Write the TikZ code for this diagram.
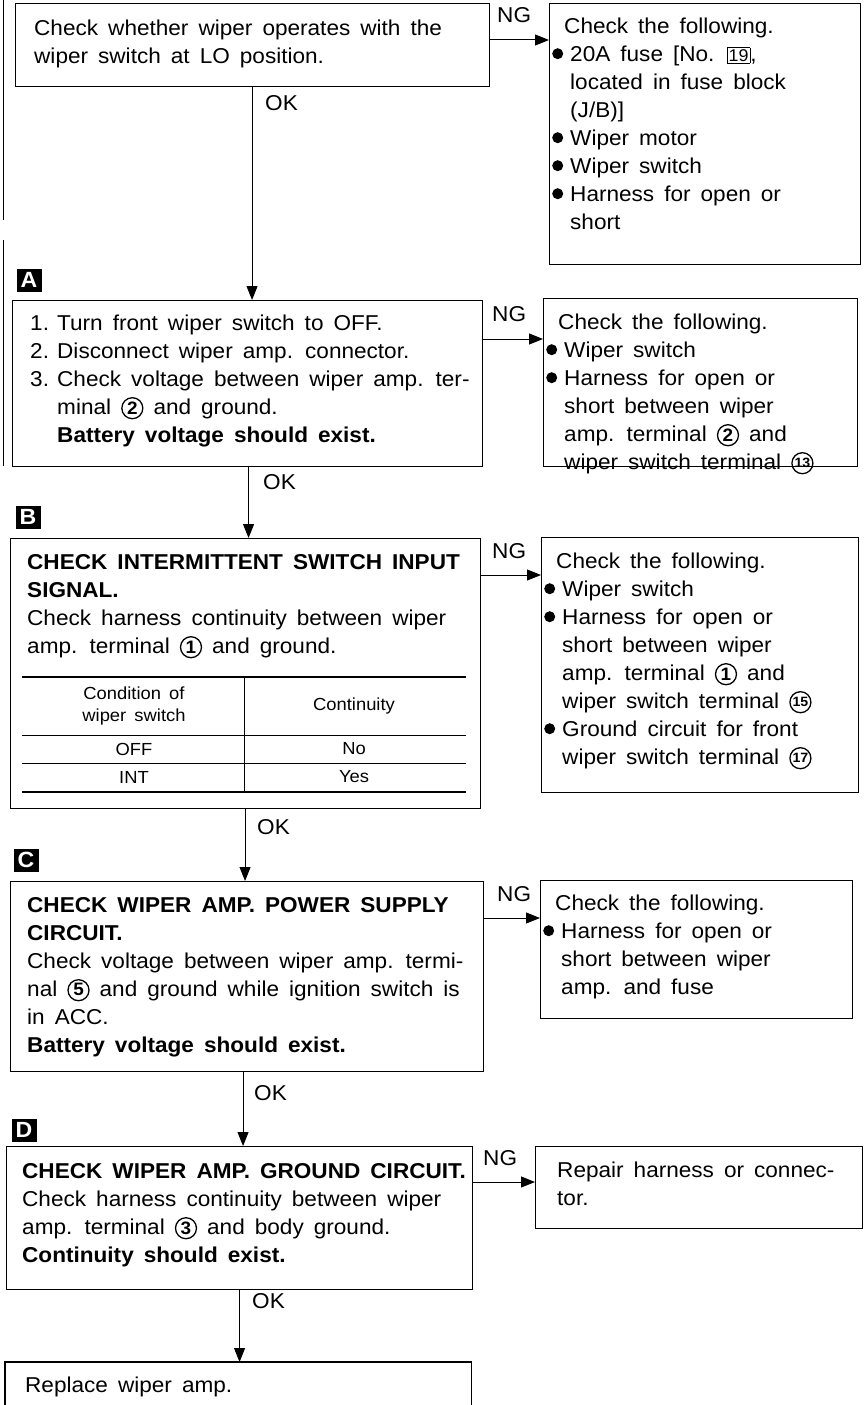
\documentclass[tikz,border=0pt]{standalone}
\usepackage{fontspec}
\setmainfont[WordSpace=1.6,FakeStretch=1.05]{Liberation Sans}
\usetikzlibrary{arrows.meta}

\newcommand\ST{\rule{0pt}{20pt}}
\newcommand\bul{\makebox[19pt][l]{\hspace*{1pt}\tikz[baseline=-7.5pt]\fill (5.5pt,0pt) circle[radius=5.5pt];}}
\newcommand\ind{\hspace*{19pt}}
\newcommand\cn[1]{\tikz[baseline=0pt]{\draw[line width=1.3pt] (0pt,6pt) circle[radius=10.5pt];
  \node[inner sep=0pt,anchor=center,font=\bfseries\fontsize{18}{18}\selectfont] at (0pt,6.4pt) {#1};}}
\newcommand\cnn[1]{\tikz[baseline=0pt]{\draw[line width=1.3pt] (0pt,6pt) circle[radius=10.5pt];
  \node[inner sep=0pt,anchor=center,font=\bfseries\fontsize{13.5}{13.5}\selectfont] at (0pt,6.2pt) {#1};}}
\newcommand\fbx[1]{{\fboxsep=1.2pt\fboxrule=0.8pt\fbox{\fontsize{17}{17}\selectfont #1}}}

\tikzset{
  box/.style={draw, line width=1.1pt, inner sep=0pt, anchor=north west},
  txt/.style={inner sep=0pt, anchor=north west, align=left, font=\fontsize{21.5}{28}\selectfont},
  lbl/.style={inner sep=0pt, anchor=base west, font=\fontsize{21.5}{21.5}\selectfont},
  conn/.style={line width=1pt, -{Triangle[length=14pt,width=11pt]}},
  tag/.style={fill=black, text=white, inner sep=0pt, minimum width=25pt, minimum height=23pt, font=\bfseries\fontsize{22}{22}\selectfont},
  cell/.style={inner sep=0pt, align=center, font=\fontsize{17.5}{22}\selectfont},
  thick rule/.style={line width=2.6pt},
  thin rule/.style={line width=1pt},
}

\begin{document}
\begin{tikzpicture}[x=1pt,y=-1pt]
\useasboundingbox (0,0) rectangle (866,1405);
\fill[white] (0,0) rectangle (866,1405);

% scan edge lines at left
\draw[line width=0.8pt] (3,0) -- (3,220);
\draw[line width=0.8pt] (3,240) -- (3,466);

% boxes
\node[box, minimum width=474pt, minimum height=83pt] (b1) at (15,3) {};
\node[box, minimum width=311pt, minimum height=261pt] (r1) at (549,3) {};
\node[box, minimum width=470pt, minimum height=166pt] (bA) at (12,300) {};
\node[box, minimum width=314pt, minimum height=168pt] (rA) at (543,298) {};
\node[box, minimum width=470pt, minimum height=270pt] (bB) at (10,538) {};
\node[box, minimum width=317pt, minimum height=255pt] (rB) at (541,537) {};
\node[box, minimum width=473pt, minimum height=190pt] (bC) at (10,881) {};
\node[box, minimum width=312pt, minimum height=138pt] (rC) at (540,880) {};
\node[box, minimum width=466pt, minimum height=143pt] (bD) at (6,1146) {};
\node[box, minimum width=327pt, minimum height=82pt] (rD) at (535,1146) {};
\node[box, draw=none, minimum width=465pt, minimum height=43pt] (fin) at (5,1362) {};
\draw[line width=1.1pt] (fin.south west) -- (fin.north west) -- (fin.north east) -- (fin.south east);

% tags
\node[tag] (tA) at (29,280) {A};
\node[tag] (tB) at (28,517) {B};
\node[tag] (tC) at (26,860) {C};
\node[tag] (tD) at (24,1130) {D};

% texts
\node[txt] (t1) at (34,15) {\ST Check whether wiper operates with the\\wiper switch at LO position.};
\node[txt] (tr1) at (551,13) {\ST\hspace*{13pt}Check the following.\\
\bul 20A fuse [No. \fbx{19},\\
\ind located in fuse block\\
\ind (J/B)]\\
\bul Wiper motor\\
\bul Wiper switch\\
\bul Harness for open or\\
\ind short};

\node[txt] (ttA) at (30,310) {\ST\makebox[27pt][l]{1.}Turn front wiper switch to OFF.\\
\makebox[27pt][l]{2.}Disconnect wiper amp. connector.\\
\makebox[27pt][l]{3.}Check voltage between wiper amp. ter-\\
\hspace*{27pt}minal \cn{2} and ground.\\
\hspace*{27pt}\textbf{Battery voltage should exist.}};
\node[txt] (trA) at (545,309) {\ST\hspace*{13pt}Check the following.\\
\bul Wiper switch\\
\bul Harness for open or\\
\ind short between wiper\\
\ind amp. terminal \cn{2} and\\
\ind wiper switch terminal \cnn{13}};

\node[txt] (ttB) at (27,549) {\ST\textbf{CHECK INTERMITTENT SWITCH INPUT}\\
\textbf{SIGNAL.}\\
Check harness continuity between wiper\\
amp. terminal \cn{1} and ground.};
\node[txt] (trB) at (543,548) {\ST\hspace*{13pt}Check the following.\\
\bul Wiper switch\\
\bul Harness for open or\\
\ind short between wiper\\
\ind amp. terminal \cn{1} and\\
\ind wiper switch terminal \cnn{15}\\
\bul Ground circuit for front\\
\ind wiper switch terminal \cnn{17}};

% table
\draw[thick rule] (22,677) -- (466,677);
\draw[thin rule] (22,735) -- (466,735);
\draw[thin rule] (22,763) -- (466,763);
\draw[thick rule] (22,792) -- (466,792);
\draw[thin rule] (244,677) -- (244,792);
\node[cell] (h1) at (134,706) {Condition of\\wiper switch};
\node[cell] (h2) at (354,706) {Continuity};
\node[cell] (c11) at (134,749) {OFF};
\node[cell] (c12) at (354,749) {No};
\node[cell] (c21) at (134,777) {INT};
\node[cell] (c22) at (354,777) {Yes};

\node[txt] (ttC) at (27,892) {\ST\textbf{CHECK WIPER AMP. POWER SUPPLY}\\
\textbf{CIRCUIT.}\\
Check voltage between wiper amp. termi-\\
nal \cn{5} and ground while ignition switch is\\
in ACC.\\
\textbf{Battery voltage should exist.}};
\node[txt] (trC) at (542,890) {\ST\hspace*{13pt}Check the following.\\
\bul Harness for open or\\
\ind short between wiper\\
\ind amp. and fuse};

\node[txt] (ttD) at (22,1158) {\ST\textbf{CHECK WIPER AMP. GROUND CIRCUIT.}\\
Check harness continuity between wiper\\
amp. terminal \cn{3} and body ground.\\
\textbf{Continuity should exist.}};
\node[txt] (trD) at (557,1157) {\ST Repair harness or connec-\\tor.};

\node[txt] (tfin) at (25,1372) {\ST Replace wiper amp.};

% connectors (vertical OK)
\draw[conn] ([xshift=-0.5pt]b1.south) -- ([xshift=-0.5pt]b1.south |- bA.north);
\draw[conn] ([xshift=1pt]bA.south) -- ([xshift=1pt]bA.south |- bB.north);
\draw[conn] ([xshift=-0.5pt]bB.south) -- ([xshift=-0.5pt]bB.south |- bC.north);
\draw[conn] ([xshift=-4pt]bC.south) -- ([xshift=-4pt]bC.south |- bD.north);
\draw[conn] ([xshift=0pt]bD.south) -- ([xshift=0pt]bD.south |- fin.north);

% NG arrows
\coordinate (n1) at (0,40);
\coordinate (nA) at (0,339);
\coordinate (nB) at (0,575);
\coordinate (nC) at (0,918);
\coordinate (nD) at (0,1182);
\draw[conn] (b1.east |- n1) -- (r1.west |- n1);
\draw[conn] (bA.east |- nA) -- (rA.west |- nA);
\draw[conn] (bB.east |- nB) -- (rB.west |- nB);
\draw[conn] (bC.east |- nC) -- (rC.west |- nC);
\draw[conn] (bD.east |- nD) -- (rD.west |- nD);

% labels
\node[lbl] (ng1) at (497,23) {NG};
\node[lbl] (ngA) at (492,321) {NG};
\node[lbl] (ngB) at (492,558) {NG};
\node[lbl] (ngC) at (497,901) {NG};
\node[lbl] (ngD) at (483,1165) {NG};
\node[lbl] (ok1) at (265,110) {OK};
\node[lbl] (okA) at (263,489) {OK};
\node[lbl] (okB) at (257,834) {OK};
\node[lbl] (okC) at (254,1100) {OK};
\node[lbl] (okD) at (252,1308) {OK};
\end{tikzpicture}
\end{document}
